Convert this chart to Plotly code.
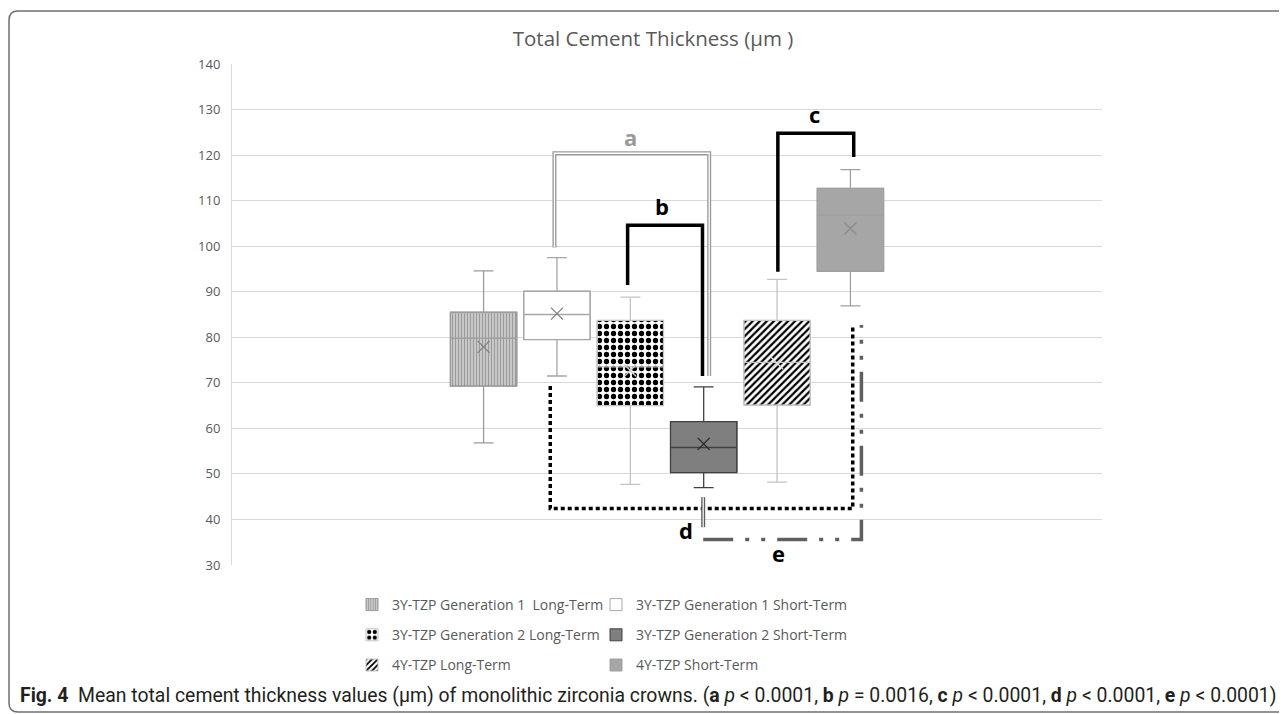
import plotly.graph_objects as go

# ---------------- data ----------------
category = ["Total Cement Thickness"]
series = [
    "3Y-TZP Generation 1\u00a0\u00a0Long-Term",
    "3Y-TZP Generation 1 Short-Term",
    "3Y-TZP Generation 2 Long-Term",
    "3Y-TZP Generation 2 Short-Term",
    "4Y-TZP Long-Term",
    "4Y-TZP Short-Term",
]
lower_whisker = [56.8, 71.5, 47.7, 47.0, 48.2, 86.9]
q1 = [69.3, 79.5, 65.0, 50.3, 65.1, 94.5]
median = [79.8, 85.0, 73.5, 55.8, 74.5, 106.8]
q3 = [85.5, 90.1, 83.7, 61.5, 83.7, 112.7]
upper_whisker = [94.6, 97.5, 88.8, 69.1, 92.7, 116.8]
mean = [77.9, 85.2, 72.7, 56.6, 74.3, 103.9]
y_ticks = list(range(30, 141, 10))
bracket_labels = ["a", "b", "c", "d", "e"]

# ---------------- styles ----------------
W, H = 1287, 714
OFF = 8  # page body margin in the browser
ML, MT = 232 - OFF, 64 - OFF
PW, PH = 870, 501
MR, MB = W - ML - PW, H - MT - PH
GAP, GROUPGAP = 0.494, 0.095
N = len(series)
SLOT = (1 - GAP) / N

fill_colors = ["#cfcfcf", "#ffffff", "#ffffff", "#7f7f7f", "#ffffff", "#a6a6a6"]
patterns = [
    dict(shape="|", fgcolor="#9c9c9c", bgcolor="#d6d6d6", size=3, solidity=0.5, fgopacity=1),
    None,
    dict(shape=".", fgcolor="#000000", bgcolor="#ffffff", size=7, solidity=0.45, fgopacity=1),
    None,
    dict(shape="/", fgcolor="#000000", bgcolor="#ffffff", size=5, solidity=0.45, fgopacity=1),
    None,
]
line_colors = ["#9a9a9a", "#a6a6a6", "#c4c4c4", "#404040", "#c4c4c4", "#a0a0a0"]
mean_colors = ["#808080", "#808080", "#d0d0d0", "#262626", "#dcdcdc", "#8c8c8c"]
legend_of = ["legend", "legend2", "legend", "legend2", "legend", "legend2"]
TXT = "#595959"
FONT = "Open Sans"

fig = go.Figure()

# box fills (bars from Q1 to Q3, with patterns) - also provide legend entries
for i in range(N):
    marker = dict(color=fill_colors[i], line=dict(color=line_colors[i], width=1))
    if patterns[i]:
        marker["pattern"] = patterns[i]
    fig.add_trace(go.Bar(
        x=category, y=[q3[i] - q1[i]], base=[q1[i]], name=series[i],
        marker=marker, offsetgroup=str(i), legend=legend_of[i],
        legendgroup=str(i), hoverinfo="skip",
    ))

# boxes: whiskers, median, outline
for i in range(N):
    fig.add_trace(go.Box(
        x=category, q1=[q1[i]], median=[median[i]], q3=[q3[i]],
        lowerfence=[lower_whisker[i]], upperfence=[upper_whisker[i]],
        name=series[i], offsetgroup=str(i), showlegend=False,
        fillcolor="rgba(0,0,0,0)", line=dict(color=line_colors[i], width=1.3),
        whiskerwidth=0.3, boxpoints=False, hoverinfo="skip",
    ))

# mean markers
for i in range(N):
    fig.add_trace(go.Scatter(
        x=category, y=[mean[i]], mode="markers", offsetgroup=str(i),
        marker=dict(symbol="x-thin", size=12, line=dict(color=mean_colors[i], width=1.3)),
        showlegend=False, hoverinfo="skip",
    ))


def cx(i, off_px=0.0):
    return (i - (N - 1) / 2) * SLOT + off_px / PW


def xp(px):
    return (px - OFF - ML) / PW


def yp(py):
    return (MT + PH - (py - OFF)) / PH


shapes = []


def bracket(i0, o0, i1, o1, ys, color, width, dash="solid", double=False):
    x0, x1 = cx(i0, o0), cx(i1, o1)
    path = f"M {x0},{ys[0]} L {x0},{ys[1]} L {x1},{ys[1]} L {x1},{ys[2]}"
    shapes.append(dict(type="path", path=path, xref="x", yref="y",
                       line=dict(color=color, width=width, dash=dash), layer="above"))
    if double:
        shapes.append(dict(type="path", path=path, xref="x", yref="y",
                           line=dict(color="white", width=1.3, dash=dash), layer="above"))


# a: double grey
bracket(1, -2.5, 3, 5.5, [99.7, 120.4, 71.5], "#9a9a9a", 4, double=True)
# b: thick black
bracket(2, -2.7, 3, -1.2, [91.5, 104.6, 71.5], "#000000", 3.5)
# c: thick black
bracket(4, 0.8, 5, 3.3, [94.4, 124.8, 119.6], "#000000", 3.5)
# d: dotted black
bracket(1, -6.7, 5, 2.3, [69.3, 42.4, 82.6], "#000000", 3.5, dash="4px,3px")
# e: dash-dot-dot grey (short double stub, then open bracket)
ex0, ex1 = cx(3, -0.5), cx(5, 11)
shapes.append(dict(type="line", x0=ex0, x1=ex0, y0=44.9, y1=38.3, xref="x", yref="y",
                   line=dict(color="#5f5f5f", width=4), layer="above"))
shapes.append(dict(type="line", x0=ex0, x1=ex0, y0=44.9, y1=38.3, xref="x", yref="y",
                   line=dict(color="white", width=1.2), layer="above"))
shapes.append(dict(type="path", path=f"M {ex0},35.6 L {ex1},35.6 L {ex1},82.7",
                   xref="x", yref="y", layer="above",
                   line=dict(color="#5f5f5f", width=3.5, dash="30px,12px,4px,12px,4px,12px")))

# outer rounded frame
R = 9
L_, T_, R_, B_ = 9, 11, 1310, 712
frame = (f"M {xp(L_)},{yp(B_ - R)} L {xp(L_)},{yp(T_ + R)} "
         f"Q {xp(L_)},{yp(T_)} {xp(L_ + R)},{yp(T_)} L {xp(R_)},{yp(T_)} "
         f"L {xp(R_)},{yp(B_)} L {xp(L_ + R)},{yp(B_)} "
         f"Q {xp(L_)},{yp(B_)} {xp(L_)},{yp(B_ - R)} Z")
shapes.append(dict(type="path", path=frame, xref="paper", yref="paper",
                   line=dict(color="#6f6f6f", width=1.5), layer="above"))

# bracket letters
label_pos = [(cx(2, 0), 123.9, "#9a9a9a"), (cx(3, -42), 108.8, "#000000"),
             (cx(4, 37.5), 129.0, "#000000"), (cx(3, -18), 37.7, "#000000"),
             (cx(4, 1.5), 32.6, "#000000")]
annotations = []
for lab, (x, y, c) in zip(bracket_labels, label_pos):
    annotations.append(dict(x=x, y=y, xref="x", yref="y", text=f"<b>{lab}</b>",
                            showarrow=False, font=dict(family=FONT, size=22, color=c)))

caption = ("<b>Fig. 4</b>  Mean total cement thickness values (μm) of monolithic zirconia crowns. "
           "(<b>a</b> <i>p</i> &lt; 0.0001, <b>b</b> <i>p</i> = 0.0016, <b>c</b> <i>p</i> &lt; 0.0001, "
           "<b>d</b> <i>p</i> &lt; 0.0001, <b>e</b> <i>p</i> &lt; 0.0001)")
annotations.append(dict(x=xp(18), y=yp(695), xref="paper", yref="paper", text=caption,
                        showarrow=False, xanchor="left", yanchor="middle",
                        font=dict(family="Roboto, sans-serif", size=19.4, color="#231f20")))

legend_style = dict(xanchor="left", yanchor="top", orientation="v", tracegroupgap=9,
                    bgcolor="rgba(0,0,0,0)", font=dict(family=FONT, size=14, color=TXT))

fig.update_layout(
    width=W, height=H,
    margin=dict(l=ML, r=MR, t=MT, b=MB),
    paper_bgcolor="white", plot_bgcolor="white",
    barmode="group", bargap=GAP, bargroupgap=GROUPGAP,
    boxmode="group", boxgap=GAP, boxgroupgap=GROUPGAP,
    scattermode="group", scattergap=GAP,
    title=dict(text="Total Cement Thickness (µm )", x=xp(653), xref="paper",
               xanchor="center", y=1 - (39 - OFF) / H, yanchor="middle", yref="container",
               font=dict(family=FONT, size=20.5, color=TXT)),
    xaxis=dict(range=[-0.5, 0.5], showticklabels=False, showgrid=False,
               zeroline=False, showline=False, ticks=""),
    yaxis=dict(range=[30, 140], tickvals=y_ticks, gridcolor="#d9d9d9", gridwidth=1,
               zeroline=False, showline=True, linecolor="#d9d9d9", linewidth=1,
               ticks="", ticklabelstandoff=8,
               tickfont=dict(family=FONT, size=13, color=TXT)),
    legend=dict(x=xp(352), y=yp(589), **legend_style),
    legend2=dict(x=xp(596), y=yp(589), **legend_style),
    shapes=shapes,
    annotations=annotations,
)

fig.write_html("out.html")
